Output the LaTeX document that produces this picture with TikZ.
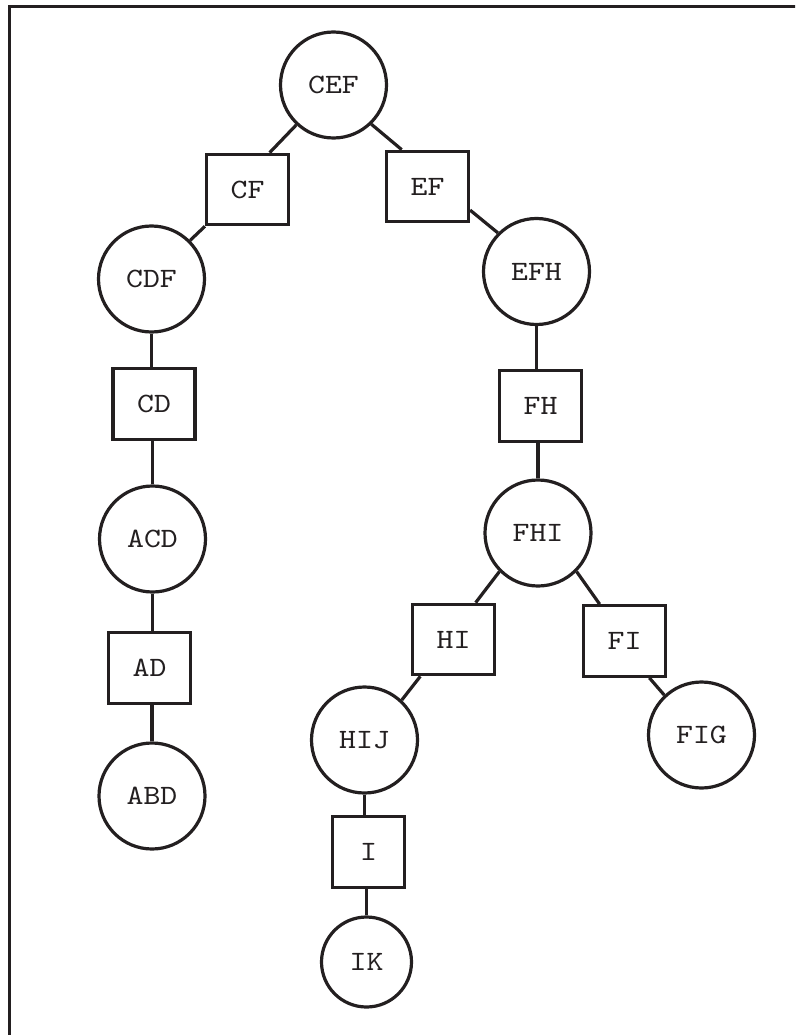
\documentclass[tikz,border=0pt]{standalone}
\usepackage{fontspec}
\newfontfamily\labelfont[Extension=.otf, FakeStretch=1.15]{lmmono10-regular}
\definecolor{ink}{HTML}{231F20}
\tikzset{
  treebase/.style={draw=ink, line width=3.2pt, inner sep=0pt, text=ink,
    font=\labelfont\fontsize{28}{34}\selectfont},
  clique/.style={treebase, circle, minimum size=106pt},
  smallclique/.style={treebase, circle, minimum size=90pt},
  sepbox/.style={treebase, rectangle, minimum width=82pt, minimum height=70.5pt},
  narrowbox/.style={treebase, rectangle, minimum width=72pt, minimum height=71pt},
  link/.style={draw=ink, line width=3.2pt}
}
\begin{document}
\begin{tikzpicture}[x=1pt, y=-1pt]
  \useasboundingbox (0,0) rectangle (795,1035);
  \begin{scope}
    \clip (0,0) rectangle (795,1035);
    \draw[draw=ink, line width=3.3pt] (9.5,6.5) rectangle (1000,1200);
  \end{scope}

  % cliques (circles) and separators (boxes)
  \node[clique] (CEF) at (333.5,85) {CEF};
  \node[sepbox] (CF) at (247.5,189.5) {CF};
  \node[sepbox] (EF) at (427.5,186.5) {EF};
  \node[clique] (CDF) at (151.5,279) {CDF};
  \node[clique] (EFH) at (536.5,271.5) {EFH};
  \node[sepbox] (CD) at (154,404) {CD};
  \node[sepbox] (FH) at (540.5,406) {FH};
  \node[clique] (ACD) at (152.5,539) {ACD};
  \node[clique] (FHI) at (538,533) {FHI};
  \node[sepbox] (AD) at (149.5,668) {AD};
  \node[sepbox] (HI) at (453.5,639.5) {HI};
  \node[sepbox] (FI) at (624.5,641) {FI};
  \node[clique] (ABD) at (152,796) {ABD};
  \node[clique] (HIJ) at (364.5,740) {HIJ};
  \node[clique] (FIG) at (701.5,735) {FIG};
  \node[narrowbox] (I) at (368.5,852) {I};
  \node[smallclique] (IK) at (366.5,962) {IK};

  % slanted tree edges
  \path[link] (CEF.-133) -- (CF.59);
  \path[link] (CEF.-46) -- (EF.125);
  \path[link] (CF.south west) -- (CDF.45);
  \path[link] (EF.-29) -- (EFH.135);
  \path[link] (FHI.-135) -- (HI.59);
  \path[link] (FHI.-45) -- (FI.124);
  \path[link] (HI.-132) -- (HIJ.47);
  \path[link] (FI.-56) -- (FIG.133);

  % vertical tree edges
  \path[link] (CDF.south) -- (CDF.south |- CD.north);
  \path[link] (ACD.north |- CD.south) -- (ACD.north);
  \path[link] (ACD.south) -- (ACD.south |- AD.north);
  \path[link] (ABD.north |- AD.south) -- (ABD.north);
  \path[link] (EFH.south) -- (EFH.south |- FH.north);
  \path[link] (FHI.north |- FH.south) -- (FHI.north);
  \path[link] (HIJ.south) -- (HIJ.south |- I.north);
  \path[link] (IK.north |- I.south) -- (IK.north);
\end{tikzpicture}
\end{document}
